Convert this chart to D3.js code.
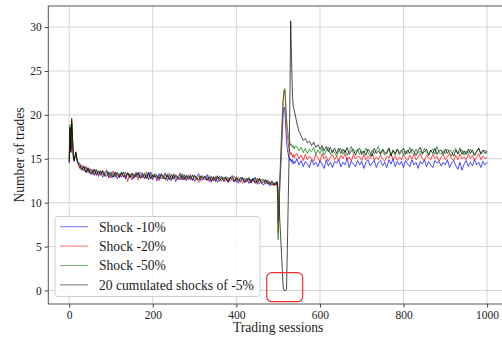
<!DOCTYPE html>
<html>
<head>
<meta charset="utf-8">
<script src="https://cdn.jsdelivr.net/npm/d3@7"></script>
<style>
  body { margin: 0; background: #fff; }
  text { font-family: "Liberation Serif", "Times New Roman", serif; fill: #222; }
</style>
</head>
<body>
<div id="chart"></div>
<script>
var w = 502;
var h = 338;

// Trading session index of every sample
var sessions = [0, 2, 4, 6, 8, 10, 12, 14, 16, 18, 20,
  25, 30, 35, 40, 45, 50, 55, 60, 65, 70,
  75, 80, 85, 90, 95, 100, 105, 110, 115, 120,
  125, 130, 135, 140, 145, 150, 155, 160, 165, 170,
  175, 180, 185, 190, 195, 200, 205, 210, 215, 220,
  225, 230, 235, 240, 245, 250, 255, 260, 265, 270,
  275, 280, 285, 290, 295, 300, 305, 310, 315, 320,
  325, 330, 335, 340, 345, 350, 355, 360, 365, 370,
  375, 380, 385, 390, 395, 400, 405, 410, 415, 420,
  425, 430, 435, 440, 445, 450, 455, 460, 465, 470,
  475, 480, 485, 490,
  493, 496, 498, 500, 502, 504, 506, 508, 510, 512, 514, 516,
  518, 520, 522, 524, 526, 528, 530, 532, 534, 536, 538, 540,
  545, 550, 555, 560, 565, 570, 575, 580, 585, 590,
  595, 600, 605, 610, 615, 620, 625, 630, 635, 640,
  645, 650, 655, 660, 665, 670, 675, 680, 685, 690,
  695, 700, 705, 710, 715, 720, 725, 730, 735, 740,
  745, 750, 755, 760, 765, 770, 775, 780, 785, 790,
  795, 800, 805, 810, 815, 820, 825, 830, 835, 840,
  845, 850, 855, 860, 865, 870, 875, 880, 885, 890,
  895, 900, 905, 910, 915, 920, 925, 930, 935, 940,
  945, 950, 955, 960, 965, 970, 975, 980, 985, 990,
  995, 1000];

var shock10 = [14.6, 18.2, 16.0, 19.0, 17.2, 15.4, 14.8, 15.2, 15.6, 15.1, 14.7,
  14.5, 13.8, 14.2, 13.4, 14.0, 13.3, 13.8, 13.1, 13.7, 13.0,
  13.6, 12.9, 13.5, 13.7, 12.8, 13.4, 12.9, 13.5, 12.7, 13.3,
  12.9, 13.5, 12.7, 13.4, 13.1, 12.6, 13.3, 12.9, 13.5, 12.8,
  13.4, 12.7, 13.2, 12.6, 13.5, 12.9, 13.1, 12.5, 13.3, 12.7,
  12.9, 13.4, 12.5, 13.1, 12.7, 13.3, 12.4, 13.0, 13.2, 12.6,
  13.2, 12.5, 13.0, 12.6, 13.2, 12.4, 12.9, 13.3, 12.5, 12.8,
  12.6, 13.2, 12.4, 13.0, 12.5, 12.9, 12.3, 13.0, 12.8, 12.4,
  12.9, 12.3, 12.8, 13.1, 12.4, 12.7, 12.2, 12.9, 12.6, 12.3,
  12.8, 12.2, 12.7, 12.4, 12.9, 12.1, 12.7, 12.3, 12.0, 12.6,
  12.3, 11.9, 12.5, 12.0,
  12.1, 12.3, 11.9, 7.8, 9.5, 12.0, 13.8, 15.8, 18.0, 20.0, 20.9, 20.6,
  18.8, 17.0, 16.1, 15.5, 15.2, 14.8, 15.0, 14.6, 14.9, 14.4, 14.7, 14.5,
  15.0, 14.3, 14.8, 14.1, 14.7, 14.4, 14.0, 14.9, 14.3, 14.6,
  14.1, 14.8, 14.4, 13.9, 14.9, 14.2, 14.6, 14.0, 14.7, 14.5,
  14.9, 14.1, 14.6, 14.3, 15.1, 14.0, 14.7, 14.4, 14.1, 14.8,
  14.3, 14.7, 13.9, 14.6, 14.9, 14.2, 14.5, 14.8, 14.0, 14.6,
  14.8, 14.2, 14.6, 14.0, 14.9, 14.4, 15.0, 14.1, 14.7, 14.3,
  14.7, 14.0, 14.8, 14.4, 14.1, 14.9, 14.3, 14.6, 13.9, 14.7,
  14.4, 14.9, 14.1, 14.7, 14.3, 14.0, 14.8, 14.5, 14.7, 14.2,
  14.6, 14.3, 14.9, 14.0, 14.5, 14.8, 14.2, 13.8, 14.6, 13.7,
  14.4, 14.8, 14.1, 14.6, 14.2, 14.9, 14.3, 14.6, 14.0, 14.7,
  14.3, 14.6];

var shock20 = [14.8, 18.5, 15.8, 19.3, 17.0, 15.2, 15.0, 15.3, 15.7, 15.0, 14.6,
  13.9, 14.3, 13.6, 14.1, 13.4, 13.9, 13.2, 13.8, 13.1, 13.6,
  13.1, 13.7, 13.0, 13.5, 13.3, 12.8, 13.6, 13.0, 13.4, 12.8,
  13.4, 12.9, 13.5, 12.4, 13.3, 12.9, 12.8, 13.5, 12.6, 13.2,
  12.8, 13.4, 12.7, 13.5, 12.9, 12.6, 13.3, 12.8, 12.5, 13.2,
  13.1, 12.6, 13.3, 12.7, 12.5, 13.2, 12.9, 12.6, 13.4, 12.7,
  12.7, 13.1, 12.6, 13.2, 12.5, 13.0, 12.8, 12.3, 13.1, 12.6,
  13.0, 12.5, 12.9, 12.3, 13.0, 12.6, 13.1, 12.4, 12.9, 12.5,
  12.5, 12.9, 12.4, 12.8, 13.0, 12.3, 12.9, 12.5, 12.2, 12.8,
  12.4, 12.8, 12.2, 12.7, 12.3, 12.8, 12.1, 12.7, 12.5, 12.1,
  12.6, 12.1, 12.4, 11.9,
  12.3, 12.0, 12.2, 6.6, 9.0, 12.4, 14.6, 17.0, 19.4, 21.4, 22.6, 22.8,
  21.0, 18.8, 17.6, 16.8, 16.2, 15.8, 15.5, 15.7, 15.2, 15.5, 15.1, 15.4,
  15.6, 15.0, 15.4, 14.8, 15.5, 14.9, 15.3, 15.0, 14.7, 15.5,
  15.1, 14.7, 15.6, 15.0, 15.3, 14.7, 15.2, 15.5, 14.9, 15.3,
  14.8, 15.4, 15.0, 15.6, 14.9, 15.2, 14.7, 15.5, 15.0, 15.3,
  15.2, 14.8, 15.5, 14.9, 15.3, 15.0, 15.6, 14.8, 15.2, 14.9,
  15.4, 15.0, 14.7, 15.3, 15.1, 15.6, 14.9, 15.3, 14.8, 15.2,
  14.9, 15.5, 15.1, 14.8, 15.4, 15.0, 15.5, 14.9, 15.2, 15.6,
  15.0, 14.8, 15.4, 15.1, 14.9, 15.5, 15.0, 15.3, 14.7, 15.2,
  15.5, 14.9, 15.2, 15.6, 15.0, 14.8, 15.4, 14.9, 15.5, 15.0,
  15.2, 14.9, 15.5, 15.0, 15.4, 14.8, 15.2, 15.6, 14.9, 15.3,
  15.0, 15.2];

var shock50 = [15.0, 18.9, 16.2, 19.1, 16.8, 15.3, 14.9, 15.2, 15.6, 14.9, 14.7,
  14.4, 13.9, 13.7, 14.1, 13.5, 13.8, 13.6, 13.3, 13.8, 13.2,
  13.7, 13.3, 13.1, 13.6, 13.0, 13.5, 13.3, 12.9, 13.5, 13.1,
  13.2, 13.5, 13.0, 13.3, 12.8, 13.4, 13.1, 13.3, 12.9, 13.5,
  13.1, 12.8, 13.5, 13.0, 13.2, 12.7, 13.3, 13.1, 12.8, 13.1,
  12.7, 13.2, 12.9, 13.4, 12.6, 13.0, 13.2, 12.7, 12.9, 13.3,
  12.9, 12.7, 13.2, 12.8, 13.0, 13.1, 12.6, 13.0, 12.7, 13.1,
  12.8, 12.6, 13.1, 12.8, 12.5, 13.0, 12.8, 12.5, 13.0, 12.6,
  13.0, 12.5, 12.7, 12.9, 12.5, 13.0, 12.5, 12.8, 12.9, 12.4,
  12.6, 12.9, 12.4, 12.6, 12.8, 12.3, 12.8, 12.4, 12.7, 12.2,
  12.5, 12.2, 12.3, 12.2,
  12.2, 12.4, 12.0, 5.8, 8.6, 12.8, 15.2, 17.6, 19.9, 21.8, 22.8, 23.0,
  21.6, 19.6, 18.6, 17.8, 17.2, 16.9, 16.5, 16.7, 16.3, 16.5, 16.1, 16.4,
  16.4, 15.9, 16.3, 15.7, 16.2, 15.6, 16.1, 15.8, 16.3, 15.5,
  16.0, 15.6, 16.2, 15.4, 15.9, 16.3, 15.5, 16.0, 15.7, 15.3,
  15.9, 16.2, 15.5, 16.0, 15.4, 15.9, 16.4, 15.6, 15.8, 16.1,
  15.5, 15.9, 15.6, 16.2, 15.7, 15.3, 16.0, 15.6, 15.9, 16.4,
  15.6, 16.0, 15.4, 15.8, 16.2, 15.5, 15.9, 15.4, 16.1, 15.7,
  16.0, 15.4, 15.9, 15.6, 16.3, 15.7, 15.5, 16.1, 15.6, 15.9,
  15.5, 16.2, 15.7, 15.4, 15.9, 16.1, 15.5, 16.4, 15.7, 15.5,
  15.9, 15.6, 16.1, 15.7, 15.3, 15.9, 16.2, 15.5, 15.8, 16.0,
  15.4, 15.9, 15.6, 16.1, 15.7, 15.4, 15.9, 16.2, 15.5, 15.8,
  16.0, 15.6];

var cumulated5 = [14.5, 18.6, 15.7, 19.6, 17.4, 15.0, 14.7, 15.4, 15.8, 15.2, 14.6,
  14.1, 13.7, 14.1, 13.5, 13.9, 13.4, 13.3, 13.8, 13.2, 13.6,
  13.2, 13.6, 13.1, 13.0, 13.5, 13.1, 12.9, 13.4, 13.2, 12.9,
  13.5, 13.0, 12.9, 13.4, 12.9, 13.3, 12.8, 13.2, 13.3, 12.8,
  13.0, 13.2, 12.8, 13.4, 12.7, 13.2, 12.9, 13.1, 12.7, 13.3,
  12.9, 12.7, 13.1, 12.6, 13.2, 12.7, 13.1, 12.9, 12.6, 13.1,
  12.6, 13.1, 12.8, 13.0, 12.6, 13.1, 12.8, 12.6, 13.0, 12.8,
  13.0, 12.6, 12.9, 12.5, 12.9, 12.4, 13.0, 12.7, 12.5, 12.9,
  12.7, 12.4, 12.9, 12.6, 12.4, 12.8, 12.6, 12.4, 12.8, 12.3,
  12.5, 12.7, 12.3, 12.8, 12.2, 12.5, 12.7, 12.2, 12.4, 12.6,
  12.1, 12.4, 12.0, 12.2,
  12.0, 12.2, 12.4, 11.6, 9.8, 8.0, 6.1, 4.2, 2.3, 0.4, 0.0, 0.0,
  0.0, 0.1, 4.8, 9.9, 14.9, 21.0, 30.7, 26.5, 22.5, 21.0, 20.6, 20.2,
  19.0, 18.1, 17.6, 17.1, 17.3, 16.8, 17.0, 16.5, 16.9, 16.3,
  16.6, 16.1, 16.5, 15.9, 16.4, 15.8, 16.3, 15.7, 16.2, 15.6,
  16.2, 15.6, 16.1, 15.7, 16.3, 15.5, 15.9, 16.1, 15.4, 16.0,
  16.2, 15.5, 15.9, 15.4, 16.1, 15.7, 15.3, 16.2, 15.6, 15.9,
  15.5, 16.1, 15.7, 15.6, 16.2, 15.3, 16.0, 15.6, 16.1, 15.5,
  15.8, 16.2, 15.5, 16.0, 15.6, 16.1, 15.8, 15.4, 15.9, 16.3,
  15.6, 15.8, 16.1, 15.4, 16.0, 15.6, 16.2, 15.5, 15.9, 16.0,
  15.5, 16.1, 15.6, 16.0, 15.8, 15.3, 16.0, 15.6, 16.2, 15.5,
  15.9, 15.5, 16.1, 15.6, 16.0, 15.4, 15.8, 16.2, 15.6, 16.0,
  15.6, 15.9];

var seriesNames = ["Shock -10%", "Shock -20%", "Shock -50%", "20 cumulated shocks of -5%"];
var seriesColors = ["#0000ff", "#ff0000", "#008000", "#000000"];
var seriesValues = [shock10, shock20, shock50, cumulated5];

var xTicks = [0, 200, 400, 600, 800, 1000];
var yTicks = [0, 5, 10, 15, 20, 25, 30];

// plot box (right edge runs past the picture)
var pLeft = 48.3, pTop = 6, pRight = 508, pBottom = 304;

var x = d3.scaleLinear().domain([-50, 1050]).range([pLeft, pRight]);
var y = d3.scaleLinear().domain([-1.54, 32.4]).range([pBottom, pTop]);

var svg = d3.select("#chart")
  .append("svg")
  .attr("width", w)
  .attr("height", h);

svg.append("defs").append("clipPath")
  .attr("id", "plotclip")
  .append("rect")
  .attr("x", pLeft).attr("y", pTop)
  .attr("width", pRight - pLeft).attr("height", pBottom - pTop);

//Grid lines
svg.append("g").selectAll("line")
  .data(xTicks).enter().append("line")
  .attr("x1", function(d) { return x(d); })
  .attr("x2", function(d) { return x(d); })
  .attr("y1", pTop).attr("y2", pBottom)
  .style("stroke", "#d4d4d4").style("stroke-width", 1);

svg.append("g").selectAll("line")
  .data(yTicks).enter().append("line")
  .attr("x1", pLeft).attr("x2", pRight)
  .attr("y1", function(d) { return y(d); })
  .attr("y2", function(d) { return y(d); })
  .style("stroke", "#d4d4d4").style("stroke-width", 1);

//Lines
var line = d3.line()
  .x(function(d) { return x(d[0]); })
  .y(function(d) { return y(d[1]); });

svg.append("g")
  .attr("clip-path", "url(#plotclip)")
  .selectAll("path")
  .data(seriesValues)
  .enter()
  .append("path")
  .attr("d", function(vals) {
    return line(sessions.map(function(s, i) { return [s, vals[i]]; }));
  })
  .style("fill", "none")
  .style("stroke", function(d, i) { return seriesColors[i]; })
  .style("stroke-opacity", 0.78)
  .style("stroke-width", 0.9);

//Axes
var xAxis = d3.axisBottom(x).tickValues(xTicks).tickFormat(d3.format("d")).tickSize(3.5).tickPadding(3);
var yAxis = d3.axisLeft(y).tickValues(yTicks).tickFormat(d3.format("d")).tickSize(3.5).tickPadding(3);

var gx = svg.append("g").attr("transform", "translate(0," + pBottom + ")").call(xAxis);
var gy = svg.append("g").attr("transform", "translate(" + pLeft + ",0)").call(yAxis);

[gx, gy].forEach(function(g) {
  g.select(".domain").remove();
  g.selectAll(".tick line").style("stroke", "#444");
  g.selectAll(".tick text")
    .style("font-family", "'Liberation Serif', serif")
    .style("font-size", "11.5px")
    .style("fill", "#222");
});

//Frame
svg.append("rect")
  .attr("x", pLeft).attr("y", pTop)
  .attr("width", pRight - pLeft).attr("height", pBottom - pTop)
  .style("fill", "none")
  .style("stroke", "#555")
  .style("stroke-width", 1);

//Axis labels
svg.append("text")
  .attr("x", (pLeft + pRight) / 2)
  .attr("y", 332)
  .style("text-anchor", "middle")
  .style("font-size", "13.6px")
  .text("Trading sessions");

svg.append("text")
  .attr("transform", "translate(24," + ((pTop + pBottom) / 2) + ") rotate(-90)")
  .style("text-anchor", "middle")
  .style("font-size", "13.6px")
  .text("Number of trades");

//Legend
var legend = svg.append("g");
legend.append("rect")
  .attr("x", 55).attr("y", 216.5)
  .attr("width", 205).attr("height", 80)
  .attr("rx", 3)
  .style("fill", "#fff").style("fill-opacity", 0.85)
  .style("stroke", "#d0d0d0").style("stroke-width", 1);

var rows = legend.selectAll("g.row")
  .data(seriesNames).enter().append("g")
  .attr("class", "row")
  .attr("transform", function(d, i) { return "translate(0," + (226.7 + i * 19.4) + ")"; });

rows.append("line")
  .attr("x1", 60).attr("x2", 88)
  .style("stroke", function(d, i) { return seriesColors[i]; })
  .style("stroke-opacity", 0.55)
  .style("stroke-width", 1);

rows.append("text")
  .attr("x", 99).attr("y", 4.8)
  .style("font-size", "13.6px")
  .text(function(d) { return d; });

//Red highlight box round the dip
svg.append("rect")
  .attr("x", 266.7).attr("y", 272.7)
  .attr("width", 36).attr("height", 29)
  .attr("rx", 5)
  .style("fill", "none")
  .style("stroke", "#f03030")
  .style("stroke-width", 1.2);
</script>
</body>
</html>
